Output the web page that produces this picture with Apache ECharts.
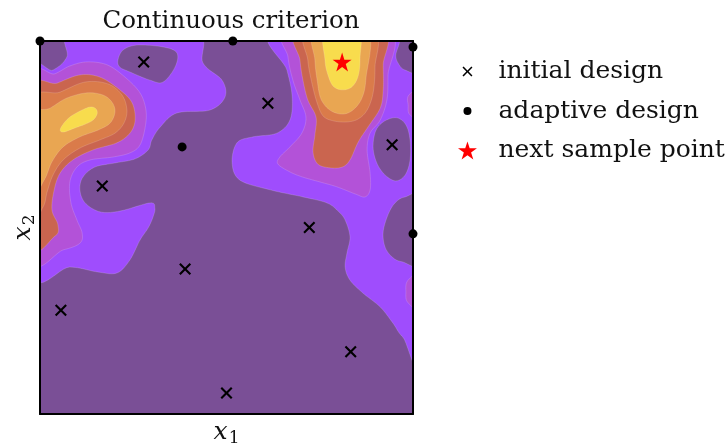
<!DOCTYPE html>
<html>
<head>
<meta charset="utf-8">
<script src="https://cdn.jsdelivr.net/npm/echarts@6/dist/echarts.min.js"></script>
<style>
  html, body { margin: 0; padding: 0; background: #ffffff; }
  #chart { width: 727px; height: 448px; }
</style>
</head>
<body>
<div id="chart"></div>
<script>
// ---- design points on the unit square ----
const initialDesign = [
  [0.278, 0.944], [0.611, 0.833], [0.944, 0.722], [0.167, 0.611], [0.722, 0.500],
  [0.389, 0.389], [0.056, 0.278], [0.833, 0.167], [0.500, 0.056]
];
const adaptiveDesign = [[0.000, 1.000], [0.517, 1.000], [1.000, 0.984], [1.000, 0.483], [0.381, 0.716]];
const nextSamplePoint = [[0.810, 0.944]];

// ---- filled contour bands of the criterion, as closed rings (x1, x2) ----
// level 1 (lowest filled band above the base level)
const level1West = [
  [0.094, 1.000], [0.408, 1.000], [0.437, 0.941], [0.488, 0.895], [0.496, 0.850], [0.456, 0.815],
  [0.367, 0.807], [0.322, 0.769], [0.300, 0.735], [0.290, 0.708], [0.255, 0.684], [0.201, 0.673],
  [0.147, 0.662], [0.115, 0.635], [0.107, 0.601], [0.121, 0.566], [0.161, 0.542], [0.214, 0.544],
  [0.295, 0.566], [0.308, 0.552], [0.303, 0.528], [0.290, 0.499], [0.268, 0.466], [0.241, 0.413],
  [0.206, 0.378], [0.153, 0.381], [0.080, 0.394], [0.000, 0.386], [0.000, 0.898], [0.035, 0.922],
  [0.072, 0.957]
];
const level1East = [
  [0.630, 1.000], [1.000, 1.000], [1.000, 0.166], [0.973, 0.206], [0.946, 0.244], [0.912, 0.287],
  [0.866, 0.324], [0.831, 0.359], [0.818, 0.394], [0.823, 0.432], [0.831, 0.475], [0.818, 0.520],
  [0.799, 0.544], [0.769, 0.566], [0.705, 0.582], [0.617, 0.601], [0.536, 0.627], [0.515, 0.673],
  [0.528, 0.727], [0.571, 0.743], [0.635, 0.753], [0.670, 0.788], [0.676, 0.850], [0.662, 0.922]
];
// pockets of the base level enclosed by level 1
const pocketNorth = [
  [0.209, 0.949], [0.223, 0.976], [0.260, 0.989], [0.330, 0.984], [0.367, 0.968], [0.362, 0.930],
  [0.330, 0.890], [0.295, 0.895], [0.241, 0.917], [0.214, 0.930]
];
const pocketEast = [
  [0.893, 0.716], [0.901, 0.761], [0.925, 0.786], [0.957, 0.794], [0.981, 0.775], [0.992, 0.735],
  [0.992, 0.681], [0.979, 0.641], [0.954, 0.625], [0.925, 0.641], [0.903, 0.673]
];
const pocketCorner = [
  [0.954, 0.962], [0.962, 0.989], [0.976, 1.000], [1.000, 1.000], [1.000, 0.917], [0.979, 0.922],
  [0.960, 0.941]
];
const pocketEdge = [
  [1.000, 0.582], [0.979, 0.582], [0.952, 0.566], [0.933, 0.534], [0.920, 0.488], [0.925, 0.448],
  [0.944, 0.421], [0.971, 0.408], [1.000, 0.405]
];
// level 2
const level2West = [
  [0.000, 0.885], [0.040, 0.912], [0.080, 0.933], [0.126, 0.944], [0.180, 0.936], [0.228, 0.903],
  [0.268, 0.861], [0.284, 0.815], [0.282, 0.769], [0.268, 0.721], [0.241, 0.700], [0.196, 0.689],
  [0.134, 0.681], [0.099, 0.662], [0.080, 0.622], [0.083, 0.566], [0.099, 0.520], [0.113, 0.485],
  [0.107, 0.458], [0.062, 0.440], [0.000, 0.424]
];
const level2East = [
  [0.665, 1.000], [0.665, 0.957], [0.678, 0.895], [0.697, 0.842], [0.713, 0.796], [0.702, 0.753],
  [0.670, 0.716], [0.643, 0.689], [0.638, 0.670], [0.670, 0.649], [0.705, 0.635], [0.751, 0.622],
  [0.796, 0.609], [0.845, 0.590], [0.871, 0.582], [0.885, 0.601], [0.885, 0.646], [0.877, 0.708],
  [0.885, 0.753], [0.912, 0.788], [0.930, 0.842], [0.933, 0.909], [0.933, 1.000]
];
const level2EdgeUpper = [[1.000, 0.879], [0.989, 0.855], [0.987, 0.828], [0.992, 0.802], [1.000, 0.788]];
const level2EdgeLower = [[1.000, 0.381], [0.987, 0.359], [0.981, 0.327], [0.987, 0.298], [1.000, 0.273]];
// level 3
const level3West = [
  [0.000, 0.855], [0.046, 0.887], [0.107, 0.909], [0.161, 0.903], [0.214, 0.869], [0.247, 0.834],
  [0.255, 0.788], [0.241, 0.753], [0.206, 0.727], [0.142, 0.708], [0.088, 0.681], [0.054, 0.646],
  [0.038, 0.601], [0.032, 0.547], [0.048, 0.507], [0.040, 0.477], [0.000, 0.458]
];
const level3East = [
  [0.692, 1.000], [0.697, 0.949], [0.705, 0.895], [0.718, 0.842], [0.740, 0.796], [0.737, 0.748],
  [0.732, 0.702], [0.745, 0.670], [0.777, 0.660], [0.810, 0.662], [0.831, 0.681], [0.853, 0.729],
  [0.879, 0.769], [0.912, 0.820], [0.920, 0.869], [0.920, 0.936], [0.917, 1.000]
];
// level 4
const level4West = [
  [0.000, 0.828], [0.054, 0.863], [0.121, 0.890], [0.182, 0.885], [0.220, 0.855], [0.233, 0.815],
  [0.225, 0.780], [0.201, 0.753], [0.161, 0.735], [0.107, 0.713], [0.062, 0.681], [0.035, 0.641],
  [0.019, 0.595], [0.008, 0.555], [0.000, 0.515]
];
const level4East = [
  [0.716, 1.000], [0.718, 0.949], [0.729, 0.887], [0.743, 0.834], [0.759, 0.799], [0.786, 0.786],
  [0.823, 0.783], [0.853, 0.791], [0.877, 0.815], [0.893, 0.861], [0.898, 0.930], [0.893, 1.000]
];
// level 5
const level5West = [
  [0.000, 0.788], [0.027, 0.820], [0.072, 0.847], [0.126, 0.861], [0.169, 0.855], [0.193, 0.836],
  [0.201, 0.810], [0.188, 0.780], [0.155, 0.761], [0.107, 0.743], [0.062, 0.716], [0.032, 0.676],
  [0.011, 0.627], [0.000, 0.574]
];
const level5East = [
  [0.737, 1.000], [0.737, 0.949], [0.743, 0.895], [0.753, 0.845], [0.777, 0.815], [0.810, 0.804],
  [0.839, 0.815], [0.863, 0.847], [0.874, 0.901], [0.877, 1.000]
];
// level 6 (peaks)
const level6West = [
  [0.054, 0.761], [0.062, 0.777], [0.080, 0.796], [0.107, 0.812], [0.134, 0.823], [0.150, 0.818],
  [0.153, 0.804], [0.142, 0.788], [0.121, 0.777], [0.094, 0.767], [0.064, 0.756]
];
const level6East = [
  [0.764, 1.000], [0.764, 0.949], [0.772, 0.909], [0.786, 0.879], [0.810, 0.869], [0.836, 0.877],
  [0.853, 0.906], [0.858, 0.954], [0.853, 1.000]
];

const legendNames = ['initial design', 'adaptive design', 'next sample point'];

// ---- styling ----
const levelColors = ['#7a4f96', '#9f4dfd', '#b352d8', '#ca654f', '#da7b4a', '#e9a652', '#f8dc4d'];
const serif = 'DejaVu Serif';

// drawing order: lower levels first, higher bands painted on top
const bands = [
  { ring: level1West, level: 1 }, { ring: level1East, level: 1 },
  { ring: pocketNorth, level: 0 }, { ring: pocketEast, level: 0 },
  { ring: pocketCorner, level: 0 }, { ring: pocketEdge, level: 0 },
  { ring: level2West, level: 2 }, { ring: level2East, level: 2 },
  { ring: level2EdgeUpper, level: 2 }, { ring: level2EdgeLower, level: 2 },
  { ring: level3West, level: 3 }, { ring: level3East, level: 3 },
  { ring: level4West, level: 4 }, { ring: level4East, level: 4 },
  { ring: level5West, level: 5 }, { ring: level5East, level: 5 },
  { ring: level6West, level: 6 }, { ring: level6East, level: 6 }
];

// vertices lying on the domain boundary are pushed just outside so the clip
// gives a straight edge along the frame
function pushOut(v) { return v <= 0 ? -0.03 : (v >= 1 ? 1.03 : v); }

// closed Catmull-Rom spline through pixel points
function smoothRing(pts, steps) {
  const n = pts.length, out = [];
  for (let i = 0; i < n; i++) {
    const p0 = pts[(i - 1 + n) % n], p1 = pts[i], p2 = pts[(i + 1) % n], p3 = pts[(i + 2) % n];
    for (let s = 0; s < steps; s++) {
      const t = s / steps, t2 = t * t, t3 = t2 * t;
      const q = [0, 1].map(k => 0.5 * (2 * p1[k] + (-p0[k] + p2[k]) * t +
        (2 * p0[k] - 5 * p1[k] + 4 * p2[k] - p3[k]) * t2 +
        (-p0[k] + 3 * p1[k] - 3 * p2[k] + p3[k]) * t3));
      out.push(q);
    }
  }
  return out;
}

const crossIcon = 'path://M0,0L0.01,0L0,0.01ZM18,18L17.99,18L18,17.99Z' +
  'M4,5.1L5.1,4L9,7.9L12.9,4L14,5.1L10.1,9L14,12.9L12.9,14L9,10.1L5.1,14L4,12.9L7.9,9Z';
const crossSymbol = 'path://M0,1.5L1.5,0L6,4.5L10.5,0L12,1.5L7.5,6L12,10.5L10.5,12L6,7.5L1.5,12L0,10.5L4.5,6Z';
const dotIcon = 'path://M0,0L0.01,0L0,0.01ZM18,18L17.99,18L18,17.99Z' +
  'M13,9A4,4 0 1 1 5,9A4,4 0 1 1 13,9Z';
const starSymbol = 'path://M50,0L61.2,34.5L97.6,34.5L68.2,55.9L79.4,90.5L50,69.1L20.6,90.5L31.8,55.9L2.4,34.5L38.8,34.5Z';

const plainAxis = {
  type: 'value', min: 0, max: 1, z: 10,
  axisLine: { show: true, onZero: false, lineStyle: { color: '#000', width: 2 } },
  axisTick: { show: false }, axisLabel: { show: false }, splitLine: { show: false }
};
const axisNameRich = {
  v: { fontFamily: serif, fontStyle: 'italic', fontSize: 25, color: '#111' },
  s: { fontFamily: serif, fontSize: 17, color: '#111', padding: [12, 0, 0, 1] }
};

const chart = echarts.init(document.getElementById('chart'), null, { renderer: 'canvas' });

chart.setOption({
  backgroundColor: '#ffffff',
  animation: false,
  title: {
    text: 'Continuous criterion',
    left: 226, top: 4, textAlign: 'center',
    textStyle: { fontFamily: serif, fontWeight: 'normal', fontSize: 24.5, color: '#111111' }
  },
  legend: {
    orient: 'vertical', left: 458, top: 59, padding: 0,
    itemWidth: 52, itemHeight: 18, itemGap: 14.5,
    selectedMode: false,
    textStyle: { fontFamily: serif, fontSize: 25, color: '#111111' },
    data: [
      { name: legendNames[0], icon: crossIcon },
      { name: legendNames[1], icon: dotIcon },
      { name: legendNames[2], icon: starSymbol }
    ]
  },
  grid: {
    left: 40, top: 41, width: 373, height: 373,
    outerBoundsMode: 'none', containLabel: false,
    show: true, backgroundColor: levelColors[0], borderWidth: 0
  },
  xAxis: [
    Object.assign({}, plainAxis, {
      position: 'bottom',
      name: '{v|x}{s|1}', nameLocation: 'middle', nameGap: 4,
      nameTextStyle: { rich: axisNameRich }
    }),
    Object.assign({}, plainAxis, { position: 'top' })
  ],
  yAxis: [
    Object.assign({}, plainAxis, {
      position: 'left',
      name: '{v|x}{s|2}', nameLocation: 'middle', nameGap: 2, nameRotate: 90,
      nameTextStyle: { rich: axisNameRich }
    }),
    Object.assign({}, plainAxis, { position: 'right' })
  ],
  series: [
    {
      type: 'custom',
      clip: true,
      silent: true,
      z: 1,
      data: bands.map(() => [0.5, 0.5]),
      renderItem: function (params, api) {
        const band = bands[params.dataIndex];
        const px = band.ring.map(p => api.coord([pushOut(p[0]), pushOut(p[1])]));
        return {
          type: 'polygon',
          shape: { points: smoothRing(px, 12) },
          style: {
            fill: levelColors[band.level],
            stroke: 'rgba(255,255,255,0.22)',
            lineWidth: 0.7
          }
        };
      }
    },
    {
      name: legendNames[0], type: 'scatter', z: 5, clip: false,
      symbol: crossSymbol, symbolSize: 12,
      itemStyle: { color: '#000000', opacity: 1 },
      data: initialDesign
    },
    {
      name: legendNames[1], type: 'scatter', z: 5, clip: false,
      symbol: 'circle', symbolSize: 9,
      itemStyle: { color: '#000000', opacity: 1 },
      data: adaptiveDesign
    },
    {
      name: legendNames[2], type: 'scatter', z: 5, clip: false,
      symbol: starSymbol, symbolSize: 19,
      itemStyle: { color: '#ff0000', opacity: 1 },
      data: nextSamplePoint
    }
  ]
});
</script>
</body>
</html>
